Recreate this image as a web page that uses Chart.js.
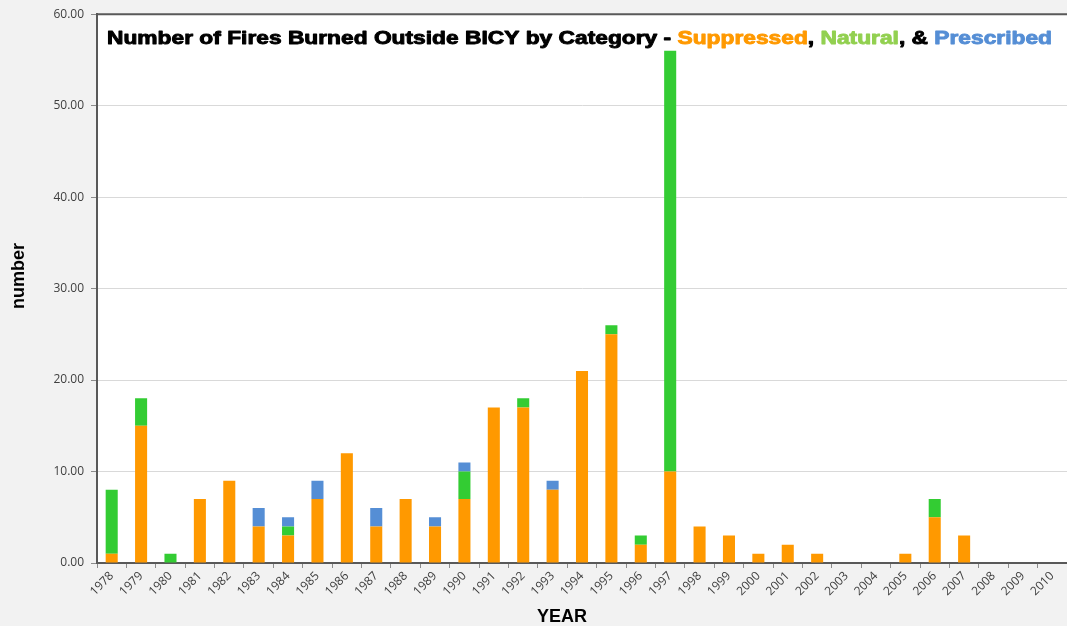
<!DOCTYPE html>
<html>
<head>
<meta charset="utf-8">
<script src="https://cdn.jsdelivr.net/npm/chart.js@4.4.1/dist/chart.umd.min.js"></script>
<style>
  html, body { margin: 0; padding: 0; background: #f2f2f2; }
  #wrap { width: 1067px; height: 626px; position: relative; }
</style>
</head>
<body>
<div id="wrap"><canvas id="c"></canvas></div>
<script>
const years = ['1978','1979','1980','1981','1982','1983','1984','1985','1986','1987','1988','1989','1990','1991','1992','1993','1994','1995','1996','1997','1998','1999','2000','2001','2002','2003','2004','2005','2006','2007','2008','2009','2010'];
const suppressed = [1,15,0,7,9,4,3,7,12,4,7,4,7,17,17,8,21,25,2,10,4,3,1,2,1,0,0,1,5,3,0,0,0];
const natural    = [7,3,1,0,0,0,1,0,0,0,0,0,3,0,1,0,0,1,1,46,0,0,0,0,0,0,0,0,2,0,0,0,0];
const prescribed = [0,0,0,0,0,2,1,2,0,2,0,1,1,0,0,1,0,0,0,0,0,0,0,0,0,0,0,0,0,0,0,0,0];
const yTicks = [0,10,20,30,40,50,60];
const titleParts = [
  {text: 'Number of Fires Burned Outside BICY by Category - ', color: '#000000'},
  {text: 'Suppressed', color: '#ff9900'},
  {text: ', ', color: '#000000'},
  {text: 'Natural', color: '#92d050'},
  {text: ', & ', color: '#000000'},
  {text: 'Prescribed', color: '#558ed5'}
];
const xTitle = 'YEAR';
const yTitle = 'number';

const FONT = '"Liberation Sans", Arial, sans-serif';

const decorPlugin = {
  id: 'decor',
  beforeDraw(chart) {
    const {ctx, chartArea: a} = chart;
    ctx.save();
    ctx.fillStyle = '#f2f2f2';
    ctx.fillRect(0, 0, chart.width, chart.height);
    ctx.fillStyle = '#ffffff';
    ctx.fillRect(a.left, a.top, a.right - a.left, a.bottom - a.top);
    ctx.restore();
  },
  afterDraw(chart) {
    const {ctx, chartArea: a} = chart;
    ctx.save();
    // top border of plot area
    ctx.strokeStyle = '#595959';
    ctx.lineWidth = 2;
    ctx.beginPath();
    ctx.moveTo(a.left - 1, a.top);
    ctx.lineTo(a.right, a.top);
    ctx.stroke();
    ctx.restore();

    // multi-coloured title, stretched horizontally to the reference width
    ctx.save();
    ctx.font = 'bold 18px ' + FONT;
    ctx.textBaseline = 'alphabetic';
    ctx.textAlign = 'left';
    const full = titleParts.map(p => p.text).join('');
    const nat = ctx.measureText(full).width;
    const targetW = 945;
    const sx = targetW / nat;
    ctx.translate(a.left + 10, a.top + 30);
    ctx.scale(sx, 1);
    let x = 0;
    ctx.lineWidth = 0.9;
    ctx.lineJoin = 'round';
    for (const p of titleParts) {
      ctx.fillStyle = p.color;
      ctx.strokeStyle = p.color;
      ctx.fillText(p.text, x, 0);
      ctx.strokeText(p.text, x, 0);
      x += ctx.measureText(p.text).width;
    }
    ctx.restore();

    // axis titles
    ctx.save();
    ctx.fillStyle = '#000000';
    ctx.font = 'bold 18px ' + FONT;
    ctx.textAlign = 'center';
    ctx.textBaseline = 'middle';
    ctx.fillText(xTitle, 562, 617);
    ctx.translate(19, 276);
    ctx.rotate(-Math.PI / 2);
    ctx.fillText(yTitle, 0, 0);
    ctx.restore();
  }
};

new Chart(document.getElementById('c'), {
  type: 'bar',
  data: {
    labels: years,
    datasets: [
      {label: 'Suppressed', data: suppressed, backgroundColor: '#ff9900'},
      {label: 'Natural', data: natural, backgroundColor: '#33cc33'},
      {label: 'Prescribed', data: prescribed, backgroundColor: '#558ed5'}
    ]
  },
  options: {
    responsive: true,
    maintainAspectRatio: false,
    animation: false,
    layout: {padding: {top: 13, left: 0, right: 0, bottom: 0}},
    datasets: {bar: {categoryPercentage: 1, barPercentage: 0.41, borderWidth: 0}},
    plugins: {legend: {display: false}, tooltip: {enabled: false}, title: {display: false}},
    scales: {
      x: {
        stacked: true,
        grid: {display: true, drawOnChartArea: false, tickLength: 5, color: '#8c8c8c', offset: true},
        border: {display: true, color: '#595959', width: 2},
        ticks: {color: '#404040', font: {family: '"Open Sans", ' + FONT, size: 12}, maxRotation: 45, minRotation: 45, autoSkip: false, padding: 1},
        title: {display: false, text: xTitle},
        afterFit(s) { s.height = 63; }
      },
      y: {
        stacked: true,
        min: 0, max: 60,
        afterBuildTicks(s) { s.ticks = yTicks.map(v => ({value: v})); },
        grid: {color: (c) => (c.tick && (c.tick.value === 60 || c.tick.value === 0)) ? 'rgba(0,0,0,0)' : '#d9d9d9', tickColor: '#8c8c8c', tickLength: 6, lineWidth: 1},
        border: {display: true, color: '#595959', width: 2},
        ticks: {color: '#404040', font: {family: '"Open Sans", ' + FONT, size: 12}, padding: 7, callback: (v) => Number(v).toFixed(2)},
        title: {display: false, text: yTitle},
        afterFit(s) { s.width = 97; }
      }
    }
  },
  plugins: [decorPlugin]
});
</script>
</body>
</html>
